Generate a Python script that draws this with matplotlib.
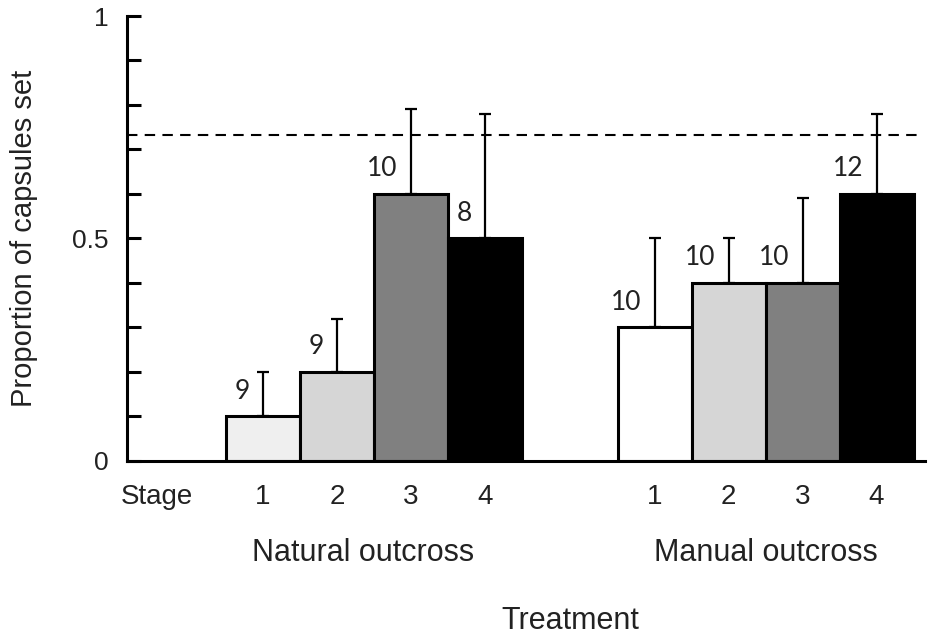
import numpy as np
import matplotlib
matplotlib.use("Agg")
import matplotlib.pyplot as plt
from matplotlib.ticker import MultipleLocator

# data
groups = ["Natural outcross", "Manual outcross"]
stages = ["1", "2", "3", "4"]
natural_mean = [0.10, 0.20, 0.60, 0.50]
natural_err = [0.10, 0.12, 0.19, 0.28]
natural_n = ["9", "9", "10", "8"]
manual_mean = [0.30, 0.40, 0.40, 0.60]
manual_err = [0.20, 0.10, 0.19, 0.18]
manual_n = ["10", "10", "10", "12"]
reference_level = 0.733

natural_colors = ["#efefef", "#d6d6d6", "#808080", "#000000"]
manual_colors = ["#ffffff", "#d6d6d6", "#808080", "#000000"]

plt.rcParams['font.family'] = ['Liberation Sans', 'DejaVu Sans']

fig = plt.figure(figsize=(9.34, 6.4), dpi=100)
ax = fig.add_axes([0.136, 0.2797, 0.854, 0.6953])

x_nat = np.arange(4)
x_man = np.arange(4) + 5.3
width = 1.0

for xs, means, errs, cols, ns in [(x_nat, natural_mean, natural_err, natural_colors, natural_n),
                                  (x_man, manual_mean, manual_err, manual_colors, manual_n)]:
    ax.bar(xs, means, width=width, color=cols, edgecolor="black", linewidth=2.2, zorder=2)
    ax.errorbar(xs, means, yerr=[np.zeros(4), errs], fmt="none", ecolor="black",
                elinewidth=1.6, capsize=4, capthick=1.6, zorder=3)
    for x, m, n in zip(xs, means, ns):
        ax.text(x - 0.18, m + 0.057, n, ha="right", va="center", fontsize=19,
                family="Lato", color="#222222")

ax.axhline(reference_level, xmin=0, xmax=0.992, color="black", linewidth=1.5,
           linestyle=(0, (5, 3.5)), zorder=1)

ax.set_xlim(-1.84, 8.95)
ax.set_ylim(0, 1)
ax.spines["top"].set_visible(False)
ax.spines["right"].set_visible(False)
ax.spines["left"].set_linewidth(2.2)
ax.spines["bottom"].set_linewidth(2.2)
ax.set_xticks([])
ax.yaxis.set_minor_locator(MultipleLocator(0.1))
ax.set_yticks([0, 0.5, 1])
ax.set_yticklabels(["0", "0.5", "1"], fontsize=19, color="#222222")
ax.tick_params(axis="y", which="both", direction="in", length=10, width=2.2, pad=13)

# stage labels under the bars
ax.text(-1.43, -0.081, "Stage", ha="center", va="center", fontsize=20, color="#222222")
for xs in (x_nat, x_man):
    for x, s in zip(xs, stages):
        ax.text(x, -0.081, s, ha="center", va="center", fontsize=20, color="#222222")
ax.text(x_nat.mean() - 0.15, -0.207, groups[0], ha="center", va="center", fontsize=22, color="#222222")
ax.text(x_man.mean(), -0.207, groups[1], ha="center", va="center", fontsize=22, color="#222222")
ax.text(4.15, -0.36, "Treatment", ha="center", va="center", fontsize=22, color="#222222")

fig.text(24 / 934, 1 - 238 / 640, "Proportion of capsules set", rotation=90,
         ha="center", va="center", fontsize=21, color="#222222")

fig.savefig("out.png", dpi=100)
